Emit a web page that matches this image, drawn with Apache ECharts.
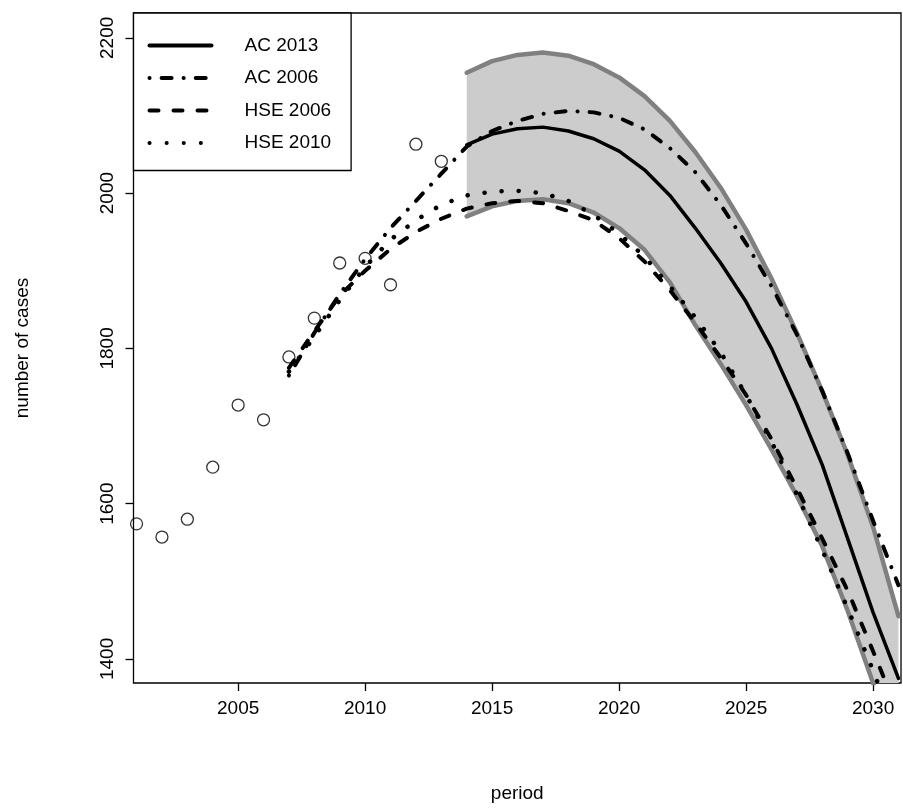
<!DOCTYPE html>
<html>
<head>
<meta charset="utf-8">
<script src="https://cdn.jsdelivr.net/npm/echarts@6/dist/echarts.min.js"></script>
<style>html,body{margin:0;padding:0;background:#fff}#chart{width:903px;height:812px}</style>
</head>
<body>
<div id="chart"></div>
<script>
// observed cases
const obsYears=[2001,2002,2003,2004,2005,2006,2007,2008,2009,2010,2011,2012,2013];
const obsCases=[1574,1557,1580,1647,1727,1708,1789,1839,1910,1916,1882,2063,2041];

// projections 2014-2031
const projYears=[2014,2015,2016,2017,2018,2019,2020,2021,2022,2023,2024,2025,2026,2027,2028,2029,2030,2031];
const bandUpper=[2155,2170,2178,2181,2177,2166,2149,2125,2093,2053,2007,1953,1890,1820,1745,1663,1570,1455];
const bandLower=[1970,1983,1990,1992,1987,1975,1955,1927,1885,1830,1780,1727,1670,1610,1545,1462,1369,1275];
const ac2013=[2062,2076,2083,2085,2080,2070,2054,2030,1997,1955,1910,1860,1800,1728,1650,1555,1460,1375];

// older projections 2007-2031
const oldYears=[2007,2008,2009,2010,2011,2012,2013,2014,2015,2016,2017,2018,2019,2020,2021,2022,2023,2024,2025,2026,2027,2028,2029,2030,2031];
const ac2006=[1765,1820,1870,1915,1955,1990,2025,2060,2080,2093,2102,2106,2104,2097,2082,2058,2027,1985,1935,1880,1818,1745,1665,1578,1495];
const hse2006=[1775,1822,1868,1900,1928,1950,1967,1980,1987,1990,1987,1977,1965,1942,1912,1875,1833,1788,1740,1683,1620,1555,1488,1410,1330];
const hse2010=[1770,1815,1862,1905,1940,1965,1985,1997,2002,2003,2000,1990,1972,1948,1918,1880,1840,1795,1740,1680,1612,1540,1465,1385,1300];

const xTicks=[2005,2010,2015,2020,2025,2030];
const yTicks=[1400,1600,1800,2000,2200];

const zip=(xs,ys)=>xs.map((x,i)=>[x,ys[i]]);
const FONT='Liberation Sans, Arial, sans-serif';

const chart=echarts.init(document.getElementById('chart'));
function line(name,data,type,color,width,z){
  return {name:name,type:'line',data:data,symbol:'none',showSymbol:false,z:z||5,
    lineStyle:{color:color||'#000',width:width||3,type:type,cap:'round',join:'round'},
    itemStyle:{color:color||'#000'}};
}
// shaded band polygon: upper points forward, lower points back
const bandData=projYears.map((y,i)=>[y,bandLower[i],bandUpper[i]]);
chart.setOption({
  animation:false,
  grid:{left:133.5,right:2,top:13,bottom:129,show:true,borderColor:'#000',borderWidth:1.3,backgroundColor:'transparent'},
  legend:{
    left:133.5,top:13,orient:'vertical',
    data:['AC 2013','AC 2006','HSE 2006','HSE 2010'],
    backgroundColor:'#fff',borderColor:'#000',borderWidth:1.3,borderRadius:0,
    padding:[23,20,18,14],itemGap:13.5,itemWidth:62,itemHeight:18,
    itemStyle:{opacity:0},
    lineStyle:{width:4},
    textStyle:{fontFamily:FONT,fontSize:19,color:'#000',padding:[0,0,0,28]},
    z:20
  },
  xAxis:{type:'value',min:2000.88,max:2031.1,name:'period',nameLocation:'middle',nameGap:101,
    nameTextStyle:{fontFamily:FONT,fontSize:19,color:'#000'},
    axisLine:{show:false},splitLine:{show:false},
    axisTick:{show:true,length:8,customValues:xTicks,lineStyle:{color:'#000',width:1.3}},
    axisLabel:{customValues:xTicks,formatter:v=>String(v),fontFamily:FONT,fontSize:19,color:'#000',margin:16}},
  yAxis:{type:'value',min:1369,max:2232,name:'number of cases',nameLocation:'middle',nameGap:101,
    nameTextStyle:{fontFamily:FONT,fontSize:19,color:'#000'},
    axisLine:{show:false},splitLine:{show:false},
    axisTick:{show:true,length:8,customValues:yTicks,lineStyle:{color:'#000',width:1.3}},
    axisLabel:{customValues:yTicks,formatter:v=>String(v),rotate:90,fontFamily:FONT,fontSize:19,color:'#000',margin:16}},
  series:[
    {name:'band',type:'custom',data:bandData,silent:true,z:1,clip:true,
      renderItem:function(params,api){
        if(params.dataIndex!==0) return null;
        const top=bandData.map(d=>api.coord([d[0],d[2]]));
        const bot=bandData.map(d=>api.coord([d[0],d[1]])).reverse();
        return {type:'polygon',shape:{points:top.concat(bot)},style:{fill:'#cccccc'}};
      }},
    line('upper',zip(projYears,bandUpper),'solid','#808080',4.5,2),
    line('lower',zip(projYears,bandLower),'solid','#808080',4.5,2),
    line('AC 2013',zip(projYears,ac2013),'solid','#000',3.5,6),
    line('AC 2006',zip(oldYears,ac2006),[0.1,12,10,12],'#000',4,5),
    line('HSE 2006',zip(oldYears,hse2006),[9,15],'#000',4,5),
    line('HSE 2010',zip(oldYears,hse2010),[0.1,17],'#000',4.5,5),
    {name:'observed',type:'scatter',data:zip(obsYears,obsCases),symbol:'circle',symbolSize:12,
      itemStyle:{color:'transparent',borderColor:'#000',borderWidth:1.3},z:7}
  ]
});
</script>
</body>
</html>
